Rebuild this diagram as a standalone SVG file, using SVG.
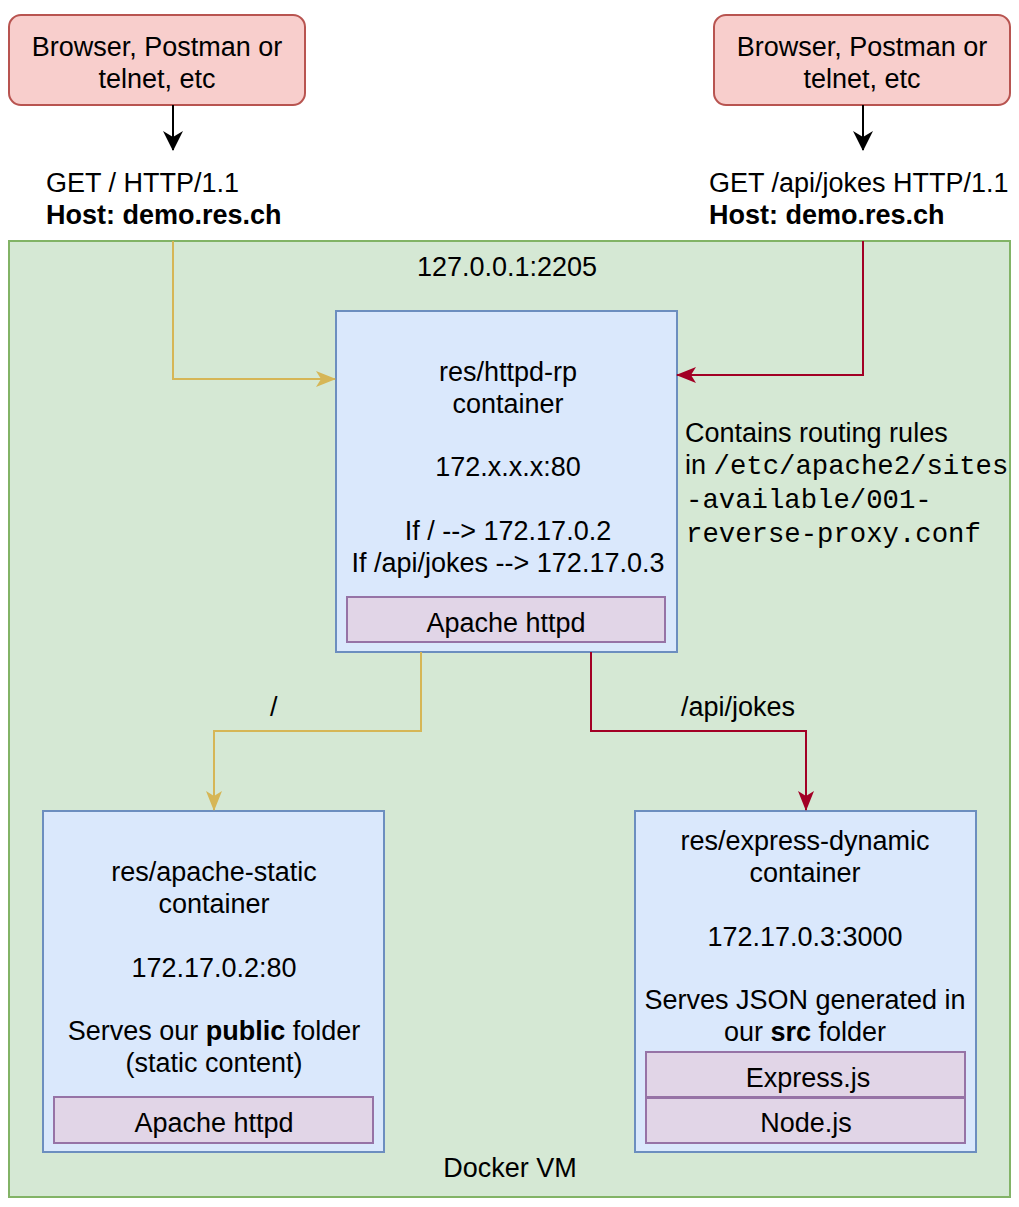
<svg xmlns="http://www.w3.org/2000/svg" width="1019" height="1207" viewBox="0 0 1019 1207">
<defs>
<style>
text{font-family:"Liberation Sans",Arial,sans-serif;font-size:27px;fill:#000}
.c{text-anchor:middle}
.b{font-weight:bold}
.m{font-family:"Liberation Mono","Courier New",monospace;font-size:27.3px}
.client{fill:#f8cecc;stroke:#b85450;stroke-width:2}
.vm{fill:#d5e8d4;stroke:#82b366;stroke-width:2}
.cont{fill:#dae8fc;stroke:#6c8ebf;stroke-width:2}
.sw{fill:#e1d5e7;stroke:#9673a6;stroke-width:2}
.ln{fill:none;stroke-width:2}
</style>
<marker id="ab" viewBox="0 0 20 20" refX="19" refY="10" markerWidth="20" markerHeight="20" markerUnits="userSpaceOnUse" orient="auto"><path d="M0,0 L20,10 L0,20 L6,10 Z" fill="#000"/></marker>
<marker id="ay" viewBox="0 0 20 16" refX="19" refY="8" markerWidth="20" markerHeight="16" markerUnits="userSpaceOnUse" orient="auto"><path d="M0,0 L20,8 L0,16 L5,8 Z" fill="#d6b656"/></marker>
<marker id="ar" viewBox="0 0 20 16" refX="19" refY="8" markerWidth="20" markerHeight="16" markerUnits="userSpaceOnUse" orient="auto"><path d="M0,0 L20,8 L0,16 L5,8 Z" fill="#a20025"/></marker>
</defs>
<g id="docker-vm">
<rect class="vm" x="9" y="241" width="1001" height="956"/>
<text class="c" x="507" y="276">127.0.0.1:2205</text>
<text class="c" x="510" y="1177">Docker VM</text>
</g>
<g id="client-left">
<rect class="client" x="9" y="15" width="296" height="90" rx="12"/>
<text class="c" x="157" y="56">Browser, Postman or</text>
<text class="c" x="157" y="88">telnet, etc</text>
</g>
<g id="client-right">
<rect class="client" x="714" y="15" width="296" height="90" rx="12"/>
<text class="c" x="862" y="56">Browser, Postman or</text>
<text class="c" x="862" y="88">telnet, etc</text>
</g>
<g id="req-left">
<text x="46" y="192">GET / HTTP/1.1</text>
<text class="b" x="46" y="224">Host: demo.res.ch</text>
</g>
<g id="req-right">
<text x="709" y="192">GET /api/jokes HTTP/1.1</text>
<text class="b" x="709" y="224">Host: demo.res.ch</text>
</g>
<g id="httpd-rp">
<rect class="cont" x="336" y="311" width="341" height="341"/>
<text class="c" x="508" y="381">res/httpd-rp</text>
<text class="c" x="508" y="413">container</text>
<text class="c" x="508" y="476">172.x.x.x:80</text>
<text class="c" x="508" y="540">If / --&gt; 172.17.0.2</text>
<text class="c" x="508" y="572">If /api/jokes --&gt; 172.17.0.3</text>
<rect class="sw" x="347" y="597" width="318" height="45"/>
<text class="c" x="506" y="632">Apache httpd</text>
</g>
<g id="routing-note">
<text x="685" y="442">Contains routing rules</text>
<text x="685" y="474">in <tspan class="m">/etc/apache2/sites</tspan></text>
<text class="m" x="686" y="508">-available/001-</text>
<text class="m" x="686" y="542">reverse-proxy.conf</text>
</g>
<g id="apache-static">
<rect class="cont" x="43" y="811" width="341" height="341"/>
<text class="c" x="214" y="881">res/apache-static</text>
<text class="c" x="214" y="913">container</text>
<text class="c" x="214" y="977">172.17.0.2:80</text>
<text class="c" x="214" y="1040">Serves our <tspan class="b">public</tspan> folder</text>
<text class="c" x="214" y="1072">(static content)</text>
<rect class="sw" x="54" y="1097" width="319" height="46"/>
<text class="c" x="214" y="1132">Apache httpd</text>
</g>
<g id="express-dynamic">
<rect class="cont" x="635" y="811" width="341" height="341"/>
<text class="c" x="805" y="850">res/express-dynamic</text>
<text class="c" x="805" y="882">container</text>
<text class="c" x="805" y="946">172.17.0.3:3000</text>
<text class="c" x="805" y="1009">Serves JSON generated in</text>
<text class="c" x="805" y="1041">our <tspan class="b">src</tspan> folder</text>
<rect class="sw" x="646" y="1052" width="319" height="45"/>
<text class="c" x="808" y="1087">Express.js</text>
<rect class="sw" x="646" y="1098" width="319" height="45"/>
<text class="c" x="806" y="1132">Node.js</text>
</g>
<g id="connectors">
<path class="ln" stroke="#000" d="M173,105 V150" marker-end="url(#ab)"/>
<path class="ln" stroke="#000" d="M863,105 V150" marker-end="url(#ab)"/>
<path class="ln" stroke="#d6b656" d="M173,241 V379 H335" marker-end="url(#ay)"/>
<path class="ln" stroke="#a20025" d="M863,241 V375 H677" marker-end="url(#ar)"/>
<path class="ln" stroke="#d6b656" d="M421,652 V731 H214 V810" marker-end="url(#ay)"/>
<path class="ln" stroke="#a20025" d="M591,652 V731 H806 V810" marker-end="url(#ar)"/>
<text x="270" y="716">/</text>
<text class="c" x="738" y="716">/api/jokes</text>
</g>
</svg>
